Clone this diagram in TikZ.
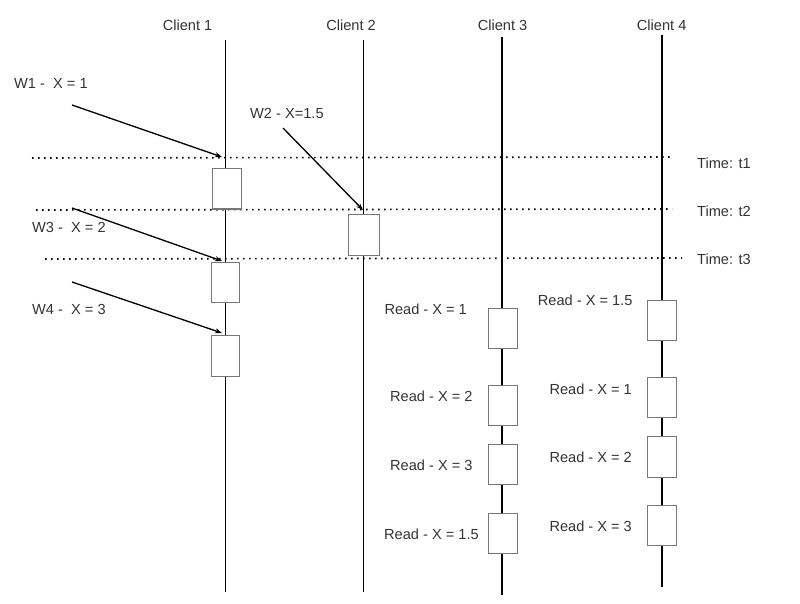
\documentclass[tikz,border=0pt]{standalone}
\usepackage{fontspec}
\setmainfont{Liberation Sans}
\usetikzlibrary{arrows.meta}
\definecolor{txt}{HTML}{333333}
\definecolor{boxc}{HTML}{777777}
\begin{document}
\begin{tikzpicture}[x=1pt,y=-1pt,
  lbl/.style={font=\fontsize{14.6}{16}\selectfont, text=txt, inner sep=0pt},
  life/.style={line width=1.5pt},
  tline/.style={line width=1.6pt, dash pattern=on 1.6pt off 4.4pt},
  evt/.style={draw=boxc, fill=white, line width=1pt, minimum width=29pt, minimum height=40pt, inner sep=0pt},
  warrow/.style={line width=1.3pt, -{Stealth[length=7pt,width=5pt]}}]
\useasboundingbox (0,0) rectangle (800,604);

% client headers
\node[lbl] (h1) at (187.5,25) {Client 1};
\node[lbl] (h2) at (351,25) {Client 2};
\node[lbl] (h3) at (502.5,25) {Client 3};
\node[lbl] (h4) at (661.7,25) {Client 4};

% lifelines
\coordinate (c1t) at (225.5,40);  \coordinate (c1b) at (225.5,592);
\coordinate (c2t) at (363.5,40);  \coordinate (c2b) at (363.5,592);
\coordinate (c3t) at (502,37);    \coordinate (c3b) at (502,595);
\coordinate (c4t) at (662,35);    \coordinate (c4b) at (662,587);
\draw[life] (c1t) -- (c1b);
\draw[life, line width=1.9pt] (c2t) -- (c2b);
\draw[life] (c3t) -- (c3b);
\draw[life] (c4t) -- (c4b);

% time lines
\coordinate (t1a) at (32,158); \coordinate (t1b) at (673,157);
\coordinate (t2a) at (36,210); \coordinate (t2b) at (672,209);
\coordinate (t3a) at (45,259); \coordinate (t3b) at (682,258);
\draw[tline] (t1a) -- (t1b);
\draw[tline] (t2a) -- (t2b);
\draw[tline] (t3a) -- (t3b);
\node[lbl, anchor=west] (tl1) at (697,163) {Time: t1};
\node[lbl, anchor=west] (tl2) at (697,211) {Time: t2};
\node[lbl, anchor=west] (tl3) at (697,259) {Time: t3};

% event boxes
\node[evt] (a1) at (227,189) {};
\node[evt, minimum width=28pt] (a2) at (225.7,282) {};
\node[evt, minimum width=28pt, minimum height=41pt] (a3) at (225.5,355.7) {};
\node[evt, minimum width=31pt, minimum height=41pt] (b1) at (364,234.5) {};
\node[evt] (r31) at (502.7,328.5) {};
\node[evt] (r32) at (502.7,405.3) {};
\node[evt] (r33) at (502.7,464.5) {};
\node[evt] (r34) at (502.7,533.3) {};
\node[evt] (r41) at (661.8,320.7) {};
\node[evt] (r42) at (661.8,397) {};
\node[evt, minimum height=41pt] (r43) at (661.8,456.8) {};
\node[evt] (r44) at (661.8,525.3) {};

% write labels and arrows
\node[lbl, anchor=west] (w1) at (14,83) {W1 -\ \ X = 1};
\node[lbl, anchor=west] (w2) at (250,113) {W2 - X=1.5};
\node[lbl, anchor=west] (w3) at (32,227) {W3 -\ \ X = 2};
\node[lbl, anchor=west] (w4) at (32,309) {W4 -\ \ X = 3};
\coordinate (w1s) at (72,105);  \coordinate (w1e) at (222,157);
\coordinate (w2s) at (283,128); \coordinate (w2e) at (363,210);
\coordinate (w3s) at (72,208);  \coordinate (w3e) at (222,261);
\coordinate (w4s) at (72,282);  \coordinate (w4e) at (222,333);
\draw[warrow] (w1s) -- (w1e);
\draw[warrow] (w2s) -- (w2e);
\draw[warrow] (w3s) -- (w3e);
\draw[warrow] (w4s) -- (w4e);

% read labels
\node[lbl, anchor=west] (l31) at (384.3,309) {Read - X = 1};
\node[lbl, anchor=west] (l32) at (390,396.7) {Read - X = 2};
\node[lbl, anchor=west] (l33) at (390,465) {Read - X = 3};
\node[lbl, anchor=west] (l34) at (384,534) {Read - X = 1.5};
\node[lbl, anchor=west] (l41) at (537.7,300.7) {Read - X = 1.5};
\node[lbl, anchor=west] (l42) at (549.3,389) {Read - X = 1};
\node[lbl, anchor=west] (l43) at (549.3,457.3) {Read - X = 2};
\node[lbl, anchor=west] (l44) at (549.3,526) {Read - X = 3};
\end{tikzpicture}
\end{document}
